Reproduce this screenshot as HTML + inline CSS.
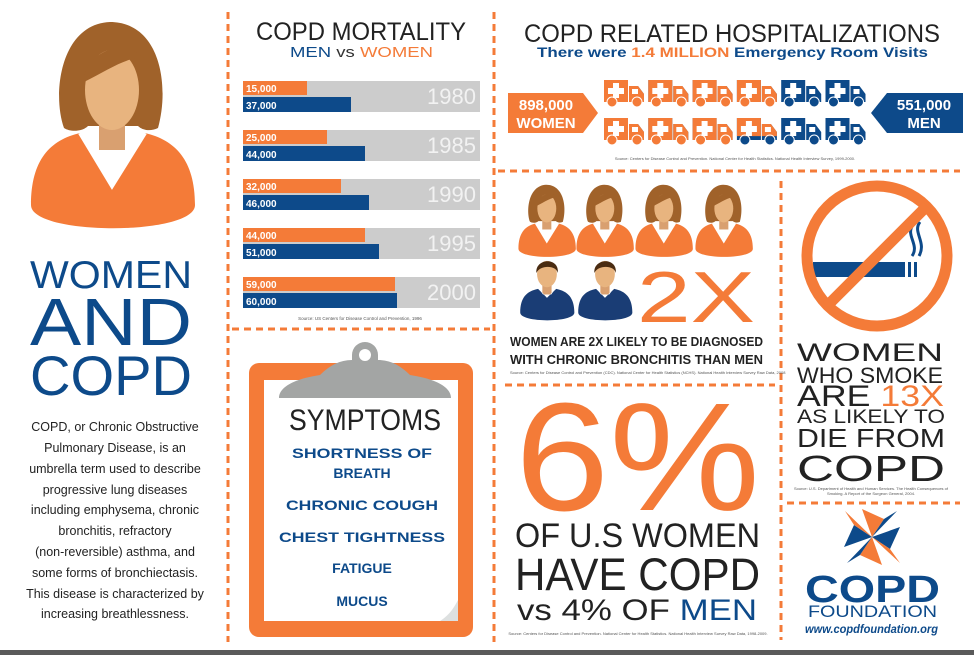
<!DOCTYPE html>
<html><head><meta charset="utf-8">
<style>
html,body{margin:0;padding:0;background:#fff;}
svg{display:block;}
text{font-family:"Liberation Sans",sans-serif;}
</style></head>
<body>
<svg id="root" width="974" height="655" viewBox="0 0 974 655">
<defs>
  <g id="woman">
    <path d="M64,128 C52,95 60,24 110,22 C160,22 170,85 158,128 C150,132 142,130 138,126 L88,126 C82,132 70,132 64,128 Z" fill="#a0622a"/>
    <rect x="99" y="110" width="26" height="40" fill="#d9a070"/>
    <ellipse cx="112" cy="90" rx="27" ry="40" fill="#e8b47f"/>
    <path d="M84,76 C92,48 125,40 144,58 C128,56 108,70 84,82 Z" fill="#a0622a"/>
    <path d="M31,205 C31,160 50,140 80,133 L112,186 L145,133 C175,140 195,160 195,205 C195,236 31,236 31,205 Z" fill="#f47b38"/>
    <path d="M80,133 L112,186 L145,133" fill="none" stroke="#fff" stroke-width="4"/>
  </g>
  <g id="man">
    <rect x="98" y="110" width="28" height="40" fill="#d9a070"/>
    <ellipse cx="112" cy="88" rx="30" ry="40" fill="#e8b47f"/>
    <path d="M80,85 C75,40 150,35 145,85 C140,60 90,60 80,85 Z" fill="#4a2c12"/>
    <path d="M31,205 C31,160 50,140 85,133 L112,160 L140,133 C175,140 195,160 195,205 C195,236 31,236 31,205 Z" fill="#1a3d75"/>
    <path d="M88,133 L112,160 L137,133 L125,150 L100,150 Z" fill="#fff"/>
  </g>
</defs>

<g stroke="#f47b38" stroke-width="3" stroke-dasharray="7 5">
  <line x1="228" y1="12" x2="228" y2="642"/>
  <line x1="494" y1="12" x2="494" y2="642"/>
  <line x1="232" y1="329" x2="490" y2="329"/>
  <line x1="498" y1="171" x2="960" y2="171"/>
  <line x1="781" y1="181" x2="781" y2="640"/>
  <line x1="505" y1="385" x2="775" y2="385"/>
  <line x1="787" y1="503" x2="960" y2="503"/>
</g>
<rect x="0" y="650" width="974" height="5" fill="#5a5a5a"/>

<use href="#woman"/>
<g fill="#0d4a8a">
  <text x="30" y="288" font-size="39" textLength="162" lengthAdjust="spacingAndGlyphs">WOMEN</text>
  <text x="30" y="345" font-size="67" textLength="162" lengthAdjust="spacingAndGlyphs">AND</text>
  <text x="30" y="395" font-size="56" textLength="162" lengthAdjust="spacingAndGlyphs">COPD</text>
</g>
<g fill="#222" font-size="12.5" text-anchor="middle">
  <text x="115" y="431">COPD, or Chronic Obstructive</text>
  <text x="115" y="452">Pulmonary Disease, is an</text>
  <text x="115" y="473">umbrella term used to describe</text>
  <text x="115" y="494">progressive lung diseases</text>
  <text x="115" y="514">including emphysema, chronic</text>
  <text x="115" y="535">bronchitis, refractory</text>
  <text x="115" y="556">(non-reversible) asthma, and</text>
  <text x="115" y="577">some forms of bronchiectasis.</text>
  <text x="115" y="598">This disease is characterized by</text>
  <text x="115" y="618">increasing breathlessness.</text>
</g>

<text x="256" y="40" font-size="25" fill="#222" textLength="210" lengthAdjust="spacingAndGlyphs">COPD MORTALITY</text>
<text x="290" y="57" font-size="15" textLength="143" lengthAdjust="spacingAndGlyphs"><tspan fill="#0d4a8a">MEN</tspan><tspan fill="#333"> vs </tspan><tspan fill="#f47b38">WOMEN</tspan></text>
<g id="chart"></g>
<text x="360" y="320" font-size="4.5" fill="#555" text-anchor="middle">Source: US Centers for Disease Control and Prevention, 1996</text>

<g>
  <rect x="249" y="363" width="224" height="274" rx="10" fill="#f47b38"/>
  <rect x="264" y="380" width="194" height="241" fill="#fff"/>
  <path d="M440,621 L458,621 L458,600 C452,612 446,617 440,621 Z" fill="#dde0e0"/>
  <path d="M279,398 C279,385 300,378 320,375 C330,365 340,360 352,360 L352,355 A13,13 0 1 1 378,355 L378,360 C390,360 400,365 410,375 C430,378 451,385 451,398 Z" fill="#a3a5a4"/>
  <circle cx="365" cy="355" r="6" fill="#fff"/>
  <text x="365" y="430" font-size="30" fill="#222" text-anchor="middle" textLength="152" lengthAdjust="spacingAndGlyphs">SYMPTOMS</text>
  <g fill="#0d4a8a" font-size="14" font-weight="bold" text-anchor="middle">
    <text x="362" y="458" textLength="140" lengthAdjust="spacingAndGlyphs">SHORTNESS OF</text>
    <text x="362" y="478">BREATH</text>
    <text x="362" y="510" textLength="152" lengthAdjust="spacingAndGlyphs">CHRONIC COUGH</text>
    <text x="362" y="542" textLength="166" lengthAdjust="spacingAndGlyphs">CHEST TIGHTNESS</text>
    <text x="362" y="573">FATIGUE</text>
    <text x="362" y="606">MUCUS</text>
  </g>
</g>

<text x="524" y="42" font-size="25" fill="#222" textLength="416" lengthAdjust="spacingAndGlyphs">COPD RELATED HOSPITALIZATIONS</text>
<text x="537" y="57" font-size="14" font-weight="bold" fill="#0d4a8a" textLength="391" lengthAdjust="spacingAndGlyphs">There were <tspan fill="#f47b38">1.4 MILLION</tspan> Emergency Room Visits</text>
<g>
  <path d="M508,93 L583,93 L598,113 L583,133 L508,133 Z" fill="#f47b38"/>
  <text x="546" y="110" font-size="15" font-weight="bold" fill="#fff" text-anchor="middle">898,000</text>
  <text x="546" y="128" font-size="15" font-weight="bold" fill="#fff" text-anchor="middle">WOMEN</text>
</g>
<g>
  <path d="M963,93 L887,93 L871,113 L887,133 L963,133 Z" fill="#0d4a8a"/>
  <text x="924" y="110" font-size="15" font-weight="bold" fill="#fff" text-anchor="middle">551,000</text>
  <text x="924" y="128" font-size="15" font-weight="bold" fill="#fff" text-anchor="middle">MEN</text>
</g>
<g id="ambulances"></g>
<text x="735" y="160" font-size="4" fill="#555" text-anchor="middle">Source: Centers for Disease Control and Prevention. National Center for Health Statistics. National Health Interview Survey, 1999-2000.</text>

<g>
  <use href="#woman" transform="translate(507.6,177) scale(0.35)"/>
  <use href="#woman" transform="translate(565.6,177) scale(0.35)"/>
  <use href="#woman" transform="translate(624.6,177) scale(0.35)"/>
  <use href="#woman" transform="translate(684.6,177) scale(0.35)"/>
  <use href="#man" transform="translate(510,245) scale(0.33)"/>
  <use href="#man" transform="translate(568,245) scale(0.33)"/>
</g>
<text x="637" y="322" font-size="72" fill="#f47b38" textLength="118" lengthAdjust="spacingAndGlyphs">2X</text>
<g fill="#222" font-size="13" font-weight="bold">
  <text x="510" y="346" textLength="253" lengthAdjust="spacingAndGlyphs">WOMEN ARE 2X LIKELY TO BE DIAGNOSED</text>
  <text x="510" y="364" textLength="253" lengthAdjust="spacingAndGlyphs">WITH CHRONIC BRONCHITIS THAN MEN</text>
  <text x="510" y="374" font-size="4" font-weight="normal" fill="#555">Source: Centers for Disease Control and Prevention (CDC). National Center for Health Statistics (NCHS). National Health Interview Survey Raw Data, 2008</text>
</g>

<g>
  <text x="515" y="510" font-size="154" fill="#f47b38" textLength="245" lengthAdjust="spacingAndGlyphs">6%</text>
  <text x="515" y="547" font-size="34" fill="#222" textLength="245" lengthAdjust="spacingAndGlyphs">OF U.S WOMEN</text>
  <text x="515" y="590" font-size="45" fill="#222" textLength="245" lengthAdjust="spacingAndGlyphs">HAVE COPD</text>
  <text x="517" y="620" font-size="30" fill="#222" textLength="240" lengthAdjust="spacingAndGlyphs">vs 4% OF <tspan fill="#0d4a8a">MEN</tspan></text>
  <text x="638" y="635" font-size="4" fill="#555" text-anchor="middle">Source: Centers for Disease Control and Prevention. National Center for Health Statistics. National Health Interview Survey Raw Data, 1998-2009.</text>
</g>

<g>
  <rect x="813" y="262" width="92" height="15" fill="#0d4a8a"/>
  <rect x="908" y="262" width="3" height="15" fill="#0d4a8a"/>
  <rect x="914" y="262" width="3" height="15" fill="#0d4a8a"/>
  <path d="M913,225 C905,235 920,245 912,256" fill="none" stroke="#0d4a8a" stroke-width="3"/>
  <path d="M920,222 C912,232 927,242 919,256" fill="none" stroke="#0d4a8a" stroke-width="3"/>
  <circle cx="877" cy="256" r="70" fill="none" stroke="#f47b38" stroke-width="11"/>
  <line x1="827" y1="306" x2="927" y2="206" stroke="#f47b38" stroke-width="11"/>
</g>
<g fill="#222">
  <text x="797" y="361" font-size="25" textLength="146" lengthAdjust="spacingAndGlyphs">WOMEN</text>
  <text x="797" y="383" font-size="22" textLength="146" lengthAdjust="spacingAndGlyphs">WHO SMOKE</text>
  <text x="797" y="406" font-size="30" textLength="147" lengthAdjust="spacingAndGlyphs">ARE <tspan fill="#f47b38">13X</tspan></text>
  <text x="797" y="423" font-size="19" textLength="148" lengthAdjust="spacingAndGlyphs">AS LIKELY TO</text>
  <text x="797" y="447" font-size="26" textLength="148" lengthAdjust="spacingAndGlyphs">DIE FROM</text>
  <text x="797" y="481" font-size="36" textLength="148" lengthAdjust="spacingAndGlyphs">COPD</text>
  <text x="871" y="490" font-size="4" fill="#555" text-anchor="middle">Source: U.S. Department of Health and Human Services. The Health Consequences of</text>
  <text x="871" y="495" font-size="4" fill="#555" text-anchor="middle">Smoking. A Report of the Surgeon General, 2004.</text>
</g>

<g>
  <g transform="translate(872,537)">
    <path d="M0,0 L-10,-28 L12,-18 Z" fill="#f47b38"/>
    <path d="M0,0 L28,-10 L18,12 Z" fill="#0d4a8a"/>
    <path d="M0,0 L10,28 L-12,18 Z" fill="#f47b38"/>
    <path d="M0,0 L-28,10 L-18,-12 Z" fill="#0d4a8a"/>
    <path d="M0,0 L12,-18 L25,-26 Z" fill="#0d4a8a"/>
    <path d="M0,0 L18,12 L28,26 Z" fill="#f47b38"/>
    <path d="M0,0 L-12,18 L-25,26 Z" fill="#0d4a8a"/>
    <path d="M0,0 L-18,-12 L-27,-26 Z" fill="#f47b38"/>
  </g>
  <text x="805" y="602" font-size="38" font-weight="bold" fill="#0d4a8a" textLength="135" lengthAdjust="spacingAndGlyphs">COPD</text>
  <text x="808" y="617" font-size="17" fill="#0d4a8a" textLength="129" lengthAdjust="spacingAndGlyphs">FOUNDATION</text>
  <text x="805" y="633" font-size="12" font-weight="bold" font-style="italic" fill="#0d4a8a" textLength="133" lengthAdjust="spacingAndGlyphs">www.copdfoundation.org</text>
</g>

<script>
const years = ["1980","1985","1990","1995","2000"];
const women = [15000, 25000, 32000, 44000, 59000];
const men = [37000, 44000, 46000, 51000, 60000];
const womenLabels = ["15,000","25,000","32,000","44,000","59,000"];
const menLabels = ["37,000","44,000","46,000","51,000","60,000"];
const erWomenIcons = [1,1,1,1,0,0, 1,1,1,0.65,0,0];

const NS = "http://www.w3.org/2000/svg";
function mk(tag, attrs, parent){const e=document.createElementNS(NS,tag);for(const k in attrs)e.setAttribute(k,attrs[k]);parent.appendChild(e);return e;}
const x0 = 243;
function xScale(v){ return (v + 17000) * 0.002; }
function rowY(i){ return 81 + i * 49; }
const chart = document.getElementById('chart');
years.forEach((y,i)=>{
  const top = rowY(i);
  const bg = mk('rect',{x:x0,y:top,width:237,height:31,fill:'#cccccc'},chart);
  
  
  const w = mk('rect',{x:x0,y:top,width:xScale(women[i]),height:14,fill:'#f47b38'},chart);
  
  
  const m = mk('rect',{x:x0,y:top+16,width:xScale(men[i]),height:15,fill:'#0d4a8a'},chart);
  
  
  const wl = mk('text',{x:x0+3,y:top+11,'font-size':10,'font-weight':'bold',fill:'#fff'},chart);
  wl.textContent = womenLabels[i];
  
  
  const ml = mk('text',{x:x0+3,y:top+28,'font-size':10,'font-weight':'bold',fill:'#fff'},chart);
  ml.textContent = menLabels[i];
  
  
  const yl = mk('text',{x:476,y:top+23,'font-size':22,fill:'#f2f2f2','text-anchor':'end'},chart);
  yl.textContent = y;
  
  
});

const amb = document.getElementById('ambulances');
function ambulance(gx, gy, frac, id){
  const g = mk('g',{transform:`translate(${gx},${gy})`},amb);
  
  
  const clipId='c'+id;
  const cp = mk('clipPath',{id:clipId},g);
  mk('rect',{x:-2,y:-2,width:46,height:2+31*frac},cp);
  const draw=(color,clip)=>{
    const gg = mk('g',clip?{'clip-path':`url(#${clipId})`}:{},g);
    mk('rect',{x:0,y:2,width:24,height:22,fill:color},gg);
    mk('path',{d:'M25,8 L34,8 L40,16 L40,24 L25,24 Z',fill:color},gg);
    mk('circle',{cx:8,cy:24,r:5,fill:color,stroke:'#fff','stroke-width':1},gg);
    mk('circle',{cx:33,cy:24,r:5,fill:color,stroke:'#fff','stroke-width':1},gg);
  };
  draw('#0d4a8a',false);
  if(frac>0) draw('#f47b38',true);
  mk('rect',{x:9,y:5,width:6,height:15,fill:'#fff'},g);
  mk('rect',{x:4,y:10,width:16,height:6,fill:'#fff'},g);
  mk('rect',{x:28,y:11,width:6,height:5,fill:'#fff'},g);
}
erWomenIcons.forEach((f,i)=>{
  const col=i%6,row=Math.floor(i/6);
  ambulance(604+col*44.3, 78+row*38, f, i);
});
</script>
</svg>
</body></html>
